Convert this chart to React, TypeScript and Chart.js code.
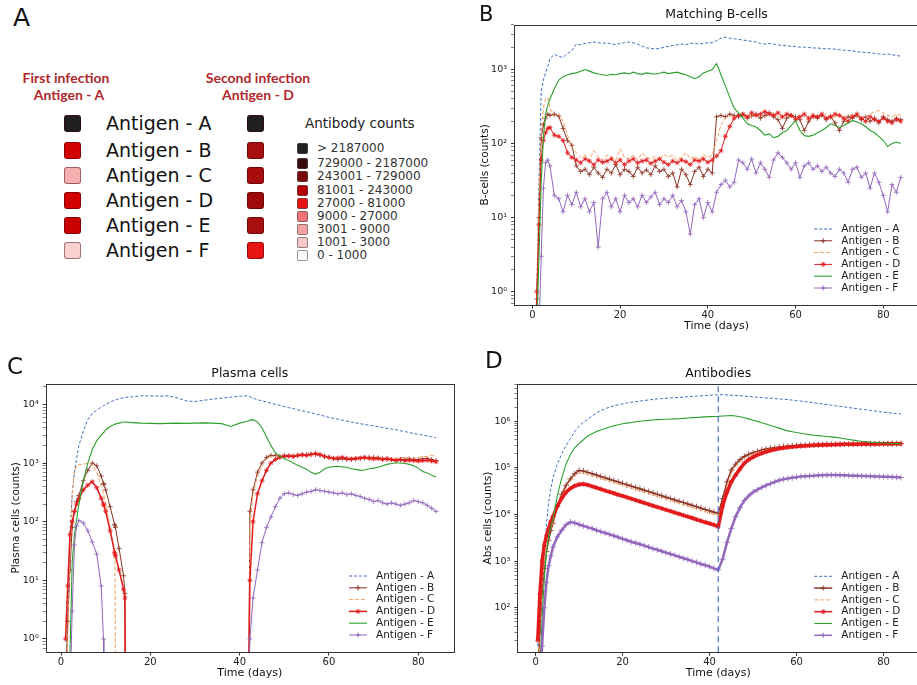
import React, { useEffect, useRef } from 'react';
import { Chart, registerables } from 'chart.js';

Chart.register(...registerables);

const FONT = "'DejaVu Sans', Verdana, sans-serif";

// ---------- shared categories ----------
const antigenLabels = ['Antigen - A', 'Antigen - B', 'Antigen - C', 'Antigen - D', 'Antigen - E', 'Antigen - F'];
const xTickValues = [0, 20, 40, 60, 80];
const secondInfectionDay = [42];

// ---------- panel A ----------
const firstInfectionColors = ['#1f1f1f', '#d20000', '#f6b0b0', '#d40000', '#c80000', '#fbd0d0'];
const secondInfectionColors = ['#1f1f1f', '#a50f0f', '#a80c0c', '#a00a0a', '#a50f0f', '#e81414'];
const antibodyBins = ['> 2187000', '729000 - 2187000', '243001 - 729000', '81001 - 243000', '27000 - 81000', '9000 - 27000', '3001 - 9000', '1001 - 3000', '0 - 1000'];
const antibodyBinColors = ['#222222', '#3a0c0c', '#7a0a0a', '#b50000', '#e81212', '#f07474', '#f4a2a2', '#f9c8c8', '#ffffff'];

// ---------- time grids ----------
const dailyDays = [
  0.5, 1, 1.5, 2, 2.5, 3, 3.5, 4,
  5, 6, 7, 8, 9, 10, 11, 12, 13, 14,
  15, 16, 17, 18, 19, 20, 21, 22, 23, 24,
  25, 26, 27, 28, 29, 30, 31, 32, 33, 34,
  35, 36, 37, 38, 39, 40, 41, 42, 43, 44,
  45, 46, 47, 48, 49, 50, 51, 52, 53, 54,
  55, 56, 57, 58, 59, 60, 61, 62, 63, 64,
  65, 66, 67, 68, 69, 70, 71, 72, 73, 74,
  75, 76, 77, 78, 79, 80, 81, 82, 83, 84,
];

const plasmaDays = [
  1, 1.5, 2, 2.5, 3, 3.5, 4, 5, 6, 7, 8, 9, 9.5, 9.6, 10, 11, 12, 12.1, 12.2, 13, 14, 14.3, 14.4,
  16, 18, 20, 22, 24, 26, 28, 30, 32, 34, 36, 38, 40,
  41, 42, 42.3,
  43, 44, 45, 46, 47, 48, 49, 50, 51, 52, 53, 54,
  55, 56, 57, 58, 59, 60, 61, 62, 63, 64,
  65, 66, 67, 68, 69, 70, 71, 72, 73, 74,
  75, 76, 77, 78, 79, 80, 81, 82, 83, 84,
];

// ---------- panel B: matching B-cells ----------
const bcellA = [
  0.1, 1, 30, 500, 720, 900, 1100, 1400,
  1600, 1500, 1450, 1650, 1800, 2200, 2150, 2250, 2300, 2350,
  2300, 2250, 2300, 2200, 2170, 2250, 2300, 2350, 2300, 2200,
  2050, 1960, 1920, 1900, 1920, 2000, 2050, 2110, 2150, 2200,
  2150, 2250, 2270, 2200, 2250, 2300, 2300, 2450, 2650, 2720,
  2650, 2600, 2550, 2500, 2450, 2400, 2350, 2250, 2200, 2250,
  2200, 2150, 2100, 2100, 2050, 2050, 2000, 2000, 1980, 1950,
  1950, 1920, 1900, 1900, 1880, 1850, 1820, 1800, 1780, 1750,
  1710, 1700, 1680, 1650, 1620, 1600, 1620, 1580, 1550, 1510,
];
const bcellB = [
  0.1, 0.8, 10, 120, 180, 220, 250, 240,
  250, 235, 160, 110, 95, 50, 42, 45, 38, 48,
  40, 35, 45, 40, 52, 38, 45, 42, 36, 48,
  40, 44, 38, 50, 42, 45, 36, 40, 26, 45,
  38, 28, 42, 48, 36, 45, 40, 230, 240, 230,
  250, 240, 230, 245, 220, 235, 250, 220, 240, 260,
  230, 210, 160, 220, 240, 230, 210, 150, 200, 230,
  220, 240, 210, 230, 190, 150, 200, 230, 220, 240,
  210, 230, 200, 220, 190, 230, 210, 200, 220, 210,
];
const bcellC = [
  0.1, 1, 20, 150, 300, 400, 420, 300,
  230, 250, 200, 130, 90, 75, 65, 70, 60, 80,
  65, 60, 70, 65, 60, 85, 65, 62, 70, 60,
  75, 65, 62, 68, 60, 72, 65, 70, 60, 65,
  75, 62, 68, 60, 72, 65, 70, 110, 180, 220,
  240, 230, 250, 220, 240, 230, 250, 240, 220, 250,
  260, 230, 220, 240, 230, 220, 240, 230, 210, 220,
  240, 230, 250, 220, 230, 240, 220, 230, 250, 240,
  220, 230, 250, 270, 280, 260, 240, 230, 250, 240,
];
const bcellD = [
  0.1, 1, 8, 60, 110, 140, 160, 165,
  130, 125, 110, 75, 65, 60, 55, 62, 58, 52,
  60, 56, 58, 62, 55, 60, 52, 58, 62, 55,
  58, 60, 54, 58, 62, 56, 52, 58, 55, 60,
  57, 52, 60, 58, 62, 56, 60, 68, 80, 125,
  170, 220, 240, 250, 230, 260, 240, 250, 270, 250,
  240, 260, 230, 250, 240, 210, 230, 250, 220, 240,
  230, 250, 220, 230, 250, 240, 220, 200, 230, 250,
  220, 200, 230, 210, 200, 220, 200, 190, 210, 200,
];
const bcellE = [
  0.1, 0.3, 3, 30, 120, 250, 330, 400,
  550, 720, 800, 850, 880, 900, 950, 1000, 950, 900,
  870, 850, 830, 860, 850, 880, 900, 870, 920, 880,
  860, 900, 880, 870, 890, 920, 880, 900, 920, 880,
  850, 800, 750, 800, 900, 950, 1000, 1200, 850, 600,
  420, 300, 260, 220, 185, 175, 167, 150, 130, 135,
  120, 125, 140, 150, 175, 205, 150, 128, 125, 130,
  140, 150, 165, 185, 175, 165, 175, 190, 205, 195,
  185, 170, 150, 140, 125, 110, 91, 100, 105, 100,
];
const bcellF = [
  0.1, 0.1, 0.3, 3, 25, 55, 60, 50,
  20, 18, 12, 20, 15, 22, 14, 18, 12, 16,
  4, 18, 22, 14, 18, 12, 20, 16, 18, 14,
  20, 16, 19, 22, 15, 18, 16, 20, 14, 17,
  12, 6, 15, 18, 10, 16, 12, 22, 28, 32,
  26, 30, 60, 55, 45, 62, 40, 55, 45, 35,
  60, 75, 65, 55, 45, 55, 35, 50, 55, 45,
  50, 42, 48, 40, 36, 45, 40, 30, 45, 48,
  35, 40, 25, 40, 30, 20, 12, 28, 22, 35,
];

// ---------- panel C: plasma cells ----------
const plasmaA = [
  0.1, 3, 60, 300, 700, 1200, 2000, 3500, 5500, 7000, 8000, 9000, 9500, 9600, 10000, 11000, 11800, 11850, 11900, 12500, 13000, 13100, 13150,
  13500, 14000, 14000, 13800, 14000, 13000, 11500, 11200, 11800, 12300, 12800, 13300, 13800,
  14000, 14000, 13500,
  12800, 12000, 11500, 11000, 10500, 10000, 9600, 9200, 8800, 8500, 8100, 7800,
  7500, 7200, 6900, 6600, 6300, 6000, 5800, 5600, 5400, 5200,
  5000, 4850, 4700, 4550, 4400, 4300, 4150, 4050, 3900, 3800,
  3700, 3550, 3450, 3300, 3200, 3100, 3000, 2900, 2800, 2700,
];
const plasmaB = [
  0.1, 2, 15, 80, 150, 220, 280, 500, 750, 1000, 900, 600, 450, 430, 350, 180, 90, 85, 80, 35, 12, 6, 0.1,
  0.1, 0.1, 0.1, 0.1, 0.1, 0.1, 0.1, 0.1, 0.1, 0.1, 0.1, 0.1, 0.1,
  0.1, 0.1, 150,
  350, 700, 1000, 1250, 1350, 1350, 1300, 1350, 1320, 1300, 1350, 1380,
  1400, 1420, 1400, 1350, 1300, 1250, 1200, 1150, 1180, 1150,
  1150, 1180, 1200, 1220, 1250, 1250, 1220, 1200, 1180, 1150,
  1100, 1120, 1150, 1180, 1150, 1150, 1180, 1200, 1150, 1100,
];
const plasmaC = [
  0.1, 1, 30, 300, 700, 900, 950, 950, 1000, 950, 700, 400, 300, 280, 200, 80, 30, 20, 0.1, 0.1, 0.1, 0.1, 0.1,
  0.1, 0.1, 0.1, 0.1, 0.1, 0.1, 0.1, 0.1, 0.1, 0.1, 0.1, 0.1, 0.1,
  0.1, 0.1, 80,
  300, 600, 900, 1150, 1300, 1300, 1350, 1300, 1300, 1350, 1320, 1350,
  1400, 1450, 1400, 1350, 1300, 1250, 1200, 1200, 1220, 1180,
  1200, 1220, 1250, 1230, 1250, 1280, 1250, 1220, 1200, 1180,
  1200, 1220, 1250, 1220, 1200, 1250, 1280, 1300, 1350, 1300,
];
const plasmaD = [
  1, 8, 60, 100, 150, 200, 250, 350, 420, 480, 380, 250, 200, 190, 150, 70, 30, 28, 26, 15, 7, 5, 0.1,
  0.1, 0.1, 0.1, 0.1, 0.1, 0.1, 0.1, 0.1, 0.1, 0.1, 0.1, 0.1, 0.1,
  0.1, 0.1, 10,
  100, 300, 500, 750, 1000, 1150, 1250, 1300, 1320, 1300, 1350, 1380,
  1350, 1400, 1450, 1400, 1300, 1250, 1200, 1220, 1250, 1200,
  1180, 1200, 1220, 1250, 1200, 1180, 1200, 1150, 1180, 1150,
  1120, 1150, 1100, 1120, 1100, 1080, 1100, 1120, 1080, 1050,
];
const plasmaE = [
  0.1, 0.1, 0.5, 20, 60, 110, 200, 500, 1000, 1700, 2400, 3000, 3300, 3350, 3700, 4200, 4600, 4620, 4650, 4800, 5000, 5000, 5000,
  4900, 4800, 4750, 4700, 4750, 4800, 4750, 4800, 4850, 4800, 4700, 4200, 4800,
  5000, 5200, 5400,
  5500, 5000, 4000, 2800, 2000, 1500, 1300, 1200, 1100, 1000, 920, 850,
  780, 700, 650, 700, 800, 850, 870, 880, 860, 850,
  800, 780, 750, 760, 800, 820, 850, 900, 950, 980,
  1000, 1000, 980, 950, 900, 820, 720, 680, 620, 580,
];
const plasmaF = [
  0.1, 0.1, 0.1, 3, 40, 85, 105, 95, 70, 45, 28, 8, 1, 0.1, 0.1, 0.1, 0.1, 0.1, 0.1, 0.1, 0.1, 0.1, 0.1,
  0.1, 0.1, 0.1, 0.1, 0.1, 0.1, 0.1, 0.1, 0.1, 0.1, 0.1, 0.1, 0.1,
  0.1, 0.1, 1,
  5, 15, 44, 80, 120, 180, 250, 300, 310, 290, 280, 300,
  320, 330, 350, 340, 330, 320, 310, 300, 310, 290,
  300, 280, 270, 250, 240, 220, 230, 210, 200, 210,
  200, 190, 200, 210, 230, 220, 210, 190, 170, 150,
];

// ---------- panel D: antibodies ----------
const abA = [
  15, 50, 300, 1500, 6000, 18000, 35000, 60000,
  120000, 200000, 300000, 420000, 600000, 780000, 950000, 1100000, 1300000, 1500000,
  1700000, 1850000, 2000000, 2150000, 2250000, 2350000, 2450000, 2550000, 2620000, 2700000,
  2780000, 2850000, 2920000, 3000000, 3050000, 3100000, 3150000, 3200000, 3250000, 3300000,
  3350000, 3400000, 3450000, 3500000, 3550000, 3600000, 3650000, 3700000, 3700000, 3650000,
  3600000, 3550000, 3500000, 3450000, 3380000, 3320000, 3260000, 3200000, 3150000, 3100000,
  3050000, 3000000, 2950000, 2900000, 2830000, 2760000, 2690000, 2620000, 2550000, 2480000,
  2410000, 2340000, 2270000, 2200000, 2140000, 2080000, 2020000, 1960000, 1900000, 1850000,
  1800000, 1750000, 1700000, 1650000, 1600000, 1560000, 1520000, 1490000, 1460000, 1430000,
];
const abB = [
  5, 30, 220, 700, 1600, 2800, 4500, 6500,
  15000, 27000, 42000, 58000, 75000, 88000, 86000, 80000, 75000, 70000,
  65000, 61000, 57000, 53000, 50000, 46500, 43500, 40500, 38000, 35500,
  33000, 31000, 29000, 27000, 25200, 23500, 22000, 20500, 19200, 18000,
  16800, 15700, 14700, 13700, 12800, 12000, 11200, 10500, 22000, 50000,
  90000, 120000, 150000, 175000, 195000, 210000, 225000, 240000, 252000, 262000,
  270000, 278000, 285000, 290000, 295000, 300000, 303000, 306000, 309000, 311000,
  313000, 315000, 317000, 318000, 319000, 320000, 321000, 322000, 323000, 324000,
  325000, 326000, 326000, 327000, 328000, 328000, 329000, 330000, 330000, 331000,
];
const abC = [
  5, 40, 300, 900, 2000, 3500, 5000, 6500,
  14000, 25000, 38000, 52000, 66000, 78000, 77000, 72000, 67000, 63000,
  58500, 55000, 51000, 48000, 45000, 42000, 39000, 36500, 34000, 32000,
  29500, 27800, 26000, 24300, 22700, 21200, 19800, 18500, 17300, 16200,
  15100, 14100, 13200, 12300, 11500, 10800, 10000, 9500, 17000, 40000,
  75000, 105000, 135000, 160000, 182000, 200000, 215000, 230000, 243000, 254000,
  263000, 271000, 278000, 284000, 290000, 295000, 299000, 302000, 305000, 308000,
  310000, 312000, 314000, 316000, 317000, 318000, 319000, 320000, 321000, 322000,
  323000, 324000, 325000, 326000, 327000, 327000, 328000, 329000, 329000, 330000,
];
const abD = [
  20, 200, 1000, 2200, 3500, 5000, 7000, 9000,
  15000, 22000, 30000, 36000, 41000, 44000, 45000, 43000, 40000, 37500,
  35000, 32500, 30500, 28500, 26500, 25000, 23300, 21800, 20300, 19000,
  17700, 16500, 15400, 14400, 13500, 12600, 11800, 11000, 10300, 9600,
  9000, 8400, 7800, 7300, 6800, 6400, 6000, 5500, 15000, 30000,
  50000, 70000, 95000, 126000, 150000, 170000, 190000, 205000, 220000, 235000,
  248000, 258000, 267000, 275000, 282000, 288000, 293000, 297000, 301000, 304000,
  307000, 310000, 312000, 314000, 316000, 318000, 319000, 320000, 321000, 322000,
  323000, 324000, 325000, 326000, 327000, 327000, 328000, 329000, 329000, 330000,
];
const abE = [
  1, 5, 60, 400, 1500, 3500, 5500, 8000,
  25000, 60000, 120000, 190000, 270000, 330000, 400000, 480000, 540000, 600000,
  650000, 700000, 750000, 800000, 840000, 880000, 910000, 940000, 970000, 1000000,
  1020000, 1040000, 1060000, 1080000, 1090000, 1100000, 1110000, 1120000, 1130000, 1150000,
  1170000, 1190000, 1200000, 1220000, 1240000, 1250000, 1260000, 1270000, 1290000, 1310000,
  1320000, 1290000, 1240000, 1180000, 1120000, 1050000, 990000, 930000, 870000, 810000,
  760000, 710000, 660000, 620000, 595000, 570000, 550000, 530000, 515000, 500000,
  490000, 480000, 470000, 460000, 450000, 435000, 420000, 405000, 392000, 380000,
  370000, 362000, 355000, 350000, 345000, 340000, 336000, 333000, 330000, 328000,
];
const abF = [
  1, 3, 15, 100, 350, 800, 1300, 2000,
  3300, 4600, 6000, 6900, 6600, 6100, 5700, 5300, 5000, 4600,
  4300, 4000, 3750, 3500, 3250, 3000, 2800, 2600, 2450, 2300,
  2150, 2000, 1850, 1750, 1630, 1520, 1420, 1330, 1240, 1150,
  1080, 1000, 940, 870, 820, 760, 700, 650, 1100, 2500,
  5000, 9000, 14000, 20000, 25000, 30000, 34000, 38000, 42000, 46000,
  50000, 54000, 57000, 59000, 61000, 63000, 65000, 66000, 67000, 68000,
  69000, 69500, 70000, 70000, 70000, 69500, 69000, 68500, 68000, 67500,
  67000, 66500, 66000, 65500, 65000, 64500, 64000, 63500, 63000, 62000,
];

// ---------- axis decades ----------
const bcellDecades = [1, 10, 100, 1000];
const plasmaDecades = [1, 10, 100, 1000, 10000];
const abDecades = [100, 1000, 10000, 100000, 1000000];

// ---------- styles ----------
const seriesColors = ['#3d6fbd', '#8b3426', '#f5a060', '#e31a1c', '#2ca02c', '#9467bd'];
const seriesDash = [[3, 2], [], [4, 2], [], [], []];
const seriesMarkers: (string | null)[] = [null, 'cross', null, 'star', null, 'cross'];

const SUP: Record<string, string> = { '-': '⁻', '0': '⁰', '1': '¹', '2': '²', '3': '³', '4': '⁴', '5': '⁵', '6': '⁶', '7': '⁷', '8': '⁸', '9': '⁹' };
const powLabel = (v: number) => '10' + String(Math.round(Math.log10(v))).split('').map((c) => SUP[c]).join('');
const isMajor = (v: number, majors: number[]) => majors.some((m) => Math.abs(v / m - 1) < 1e-6);

function logTicks(majors: number[], min: number, max: number) {
  const out: { value: number }[] = [];
  const bases = [majors[0] / 10, ...majors];
  for (const b of bases) {
    for (let k = 1; k <= 9; k++) {
      const v = b * k;
      if (v >= min && v <= max) out.push({ value: v });
    }
  }
  return out;
}

function drawMarker(ctx: CanvasRenderingContext2D, kind: string, x: number, y: number, r: number, color: string) {
  ctx.save();
  ctx.strokeStyle = color;
  ctx.lineWidth = 1;
  ctx.setLineDash([]);
  ctx.beginPath();
  ctx.moveTo(x - r, y); ctx.lineTo(x + r, y);
  ctx.moveTo(x, y - r); ctx.lineTo(x, y + r);
  if (kind === 'star') {
    const d = r * 0.75;
    ctx.moveTo(x - d, y - d); ctx.lineTo(x + d, y + d);
    ctx.moveTo(x - d, y + d); ctx.lineTo(x + d, y - d);
  }
  ctx.stroke();
  ctx.restore();
}

const framePlugin = {
  id: 'axesFrame',
  afterDraw(chart: any) {
    const { ctx, chartArea: a } = chart;
    ctx.save();
    ctx.strokeStyle = '#333';
    ctx.lineWidth = 1;
    ctx.strokeRect(Math.round(a.left) + 0.5, Math.round(a.top) + 0.5, Math.round(a.right - a.left), Math.round(a.bottom - a.top));
    ctx.restore();
  },
};

const legendPlugin = {
  id: 'cornerLegend',
  afterDraw(chart: any) {
    const { ctx, chartArea } = chart;
    const items = chart.data.datasets.filter((d: any) => antigenLabels.includes(d.label));
    const n = items.length;
    const rowGap = 11.8;
    ctx.save();
    ctx.font = `10.5px ${FONT}`;
    ctx.textBaseline = 'middle';
    ctx.textAlign = 'left';
    items.forEach((ds: any, i: number) => {
      const y = chartArea.bottom - 17 - (n - 1 - i) * rowGap;
      const x0 = chartArea.right - 105;
      const x1 = chartArea.right - 87;
      ctx.strokeStyle = ds.borderColor;
      ctx.lineWidth = Math.min(ds.borderWidth, 1.5);
      ctx.setLineDash(ds.borderDash || []);
      ctx.beginPath();
      ctx.moveTo(x0, y);
      ctx.lineTo(x1, y);
      ctx.stroke();
      ctx.setLineDash([]);
      if (ds.legendMarker) drawMarker(ctx, ds.legendMarker, (x0 + x1) / 2, y, 2.5, ds.borderColor);
      ctx.fillStyle = '#222';
      ctx.fillText(ds.label, chartArea.right - 78, y);
    });
    ctx.restore();
  },
};

type PanelCfg = {
  title: string;
  yTitle: string;
  days: number[];
  series: number[][];
  decades: number[];
  yMin: number;
  yMax: number;
  xMin: number;
  xMax: number;
  left: number;
  top: number;
  w: number;
  h: number;
  padLeft: number;
  padRight: number;
  yWidth: number;
  xHeight: number;
  titleTop: number;
  titleBottom: number;
  widths: number[];
  radii: number[];
  vline?: number[];
};

function buildConfig(cfg: PanelCfg): any {
  const datasets: any[] = cfg.series.map((vals, s) => ({
    label: antigenLabels[s],
    data: cfg.days.map((d, i) => ({ x: d, y: vals[i] })),
    borderColor: seriesColors[s],
    backgroundColor: seriesColors[s],
    borderWidth: cfg.widths[s],
    borderDash: seriesDash[s],
    pointStyle: seriesMarkers[s] || 'circle',
    pointRadius: seriesMarkers[s] ? cfg.radii[s] : 0,
    pointBorderWidth: 0.8,
    pointBorderColor: seriesColors[s],
    pointBackgroundColor: seriesColors[s],
    legendMarker: seriesMarkers[s],
    tension: 0,
    fill: false,
    order: 6 - s,
  }));
  if (cfg.vline) {
    cfg.vline.forEach((d) => {
      datasets.push({
        label: 'second infection',
        data: [{ x: d, y: cfg.yMin }, { x: d, y: cfg.yMax }],
        borderColor: '#4a6fd6',
        borderWidth: 1.2,
        borderDash: [6, 4],
        pointRadius: 0,
        fill: false,
        order: 0,
      });
    });
  }
  const tickFont = { family: FONT, size: 10 };
  return {
    type: 'line',
    data: { datasets },
    plugins: [framePlugin, legendPlugin],
    options: {
      animation: false,
      responsive: false,
      devicePixelRatio: 1,
      events: [],
      layout: { padding: { left: cfg.padLeft, right: cfg.padRight, top: 0, bottom: 0 } },
      plugins: {
        legend: { display: false },
        tooltip: { enabled: false },
        title: {
          display: true,
          text: cfg.title,
          fullSize: false,
          color: '#111',
          font: { family: FONT, size: 12.5, weight: 'normal' },
          padding: { top: cfg.titleTop, bottom: cfg.titleBottom },
        },
      },
      scales: {
        x: {
          type: 'linear',
          min: cfg.xMin,
          max: cfg.xMax,
          afterBuildTicks: (scale: any) => {
            scale.ticks = xTickValues.map((v) => ({ value: v }));
          },
          afterFit: (scale: any) => {
            scale.height = cfg.xHeight;
          },
          ticks: { autoSkip: false, maxRotation: 0, padding: 1, color: '#222', font: tickFont, callback: (v: any) => String(v) },
          grid: { display: true, drawOnChartArea: false, drawTicks: true, tickLength: 3.5, tickColor: '#333', tickWidth: 1 },
          border: { display: false },
          title: { display: true, text: 'Time (days)', color: '#111', font: { family: FONT, size: 11 }, padding: { top: 0, bottom: 3.4 } },
        },
        y: {
          type: 'logarithmic',
          min: cfg.yMin,
          max: cfg.yMax,
          afterBuildTicks: (scale: any) => {
            scale.ticks = logTicks(cfg.decades, cfg.yMin, cfg.yMax);
          },
          afterFit: (scale: any) => {
            scale.width = cfg.yWidth;
          },
          ticks: {
            autoSkip: false,
            padding: 4,
            color: '#222',
            font: { family: FONT, size: 9.5 },
            callback: (v: any) => (isMajor(Number(v), cfg.decades) ? powLabel(Number(v)) : ''),
          },
          grid: {
            display: true,
            drawOnChartArea: false,
            drawTicks: true,
            tickLength: 3,
            tickColor: '#333',
            tickWidth: (ctx: any) => (ctx.tick && isMajor(ctx.tick.value, cfg.decades) ? 1 : 0.6),
          },
          border: { display: false },
          title: { display: true, text: cfg.yTitle, color: '#111', font: { family: FONT, size: 10.5 }, padding: { top: 4, bottom: 4 } },
        },
      },
    },
  };
}

function LogPanel({ cfg }: { cfg: PanelCfg }) {
  const ref = useRef<HTMLCanvasElement>(null);
  useEffect(() => {
    const chart = new Chart(ref.current as HTMLCanvasElement, buildConfig(cfg));
    return () => chart.destroy();
  }, []);
  return (
    <canvas
      ref={ref}
      width={cfg.w}
      height={cfg.h}
      style={{ position: 'absolute', left: cfg.left, top: cfg.top, width: cfg.w, height: cfg.h }}
    />
  );
}

const panelB: PanelCfg = {
  title: 'Matching B-cells',
  yTitle: 'B-cells (counts)',
  days: dailyDays,
  series: [bcellA, bcellB, bcellC, bcellD, bcellE, bcellF],
  decades: bcellDecades,
  yMin: 0.662,
  yMax: 4036,
  xMin: -4.2,
  xMax: 88.2,
  left: 450,
  top: 0,
  w: 474,
  h: 336,
  padLeft: 24.7,
  padRight: 0,
  yWidth: 39.3,
  xHeight: 31,
  titleTop: 6.8,
  titleBottom: 2.8,
  widths: [1, 1, 1, 1, 1.1, 1],
  radii: [0, 2.5, 0, 2.5, 0, 2.5],
};

const panelC: PanelCfg = {
  title: 'Plasma cells',
  yTitle: 'Plasma cells (counts)',
  days: plasmaDays,
  series: [plasmaA, plasmaB, plasmaC, plasmaD, plasmaE, plasmaF],
  decades: plasmaDecades,
  yMin: 0.645,
  yMax: 22650,
  xMin: -3.43,
  xMax: 88.0,
  left: 0,
  top: 330,
  w: 460,
  h: 353,
  padLeft: 5.7,
  padRight: 6,
  yWidth: 40,
  xHeight: 31,
  titleTop: 36.1,
  titleBottom: 2.5,
  widths: [1, 1, 1, 1.5, 1.1, 1],
  radii: [0, 2.5, 0, 2.5, 0, 2.5],
};

const panelD: PanelCfg = {
  title: 'Antibodies',
  yTitle: 'Abs cells (counts)',
  days: dailyDays,
  series: [abA, abB, abC, abD, abE, abF],
  decades: abDecades,
  yMin: 11.1,
  yMax: 6300000,
  xMin: -4.2,
  xMax: 88.2,
  left: 460,
  top: 330,
  w: 464,
  h: 353,
  padLeft: 18,
  padRight: 0,
  yWidth: 39.3,
  xHeight: 30.7,
  titleTop: 36.1,
  titleBottom: 2.8,
  widths: [1, 1.5, 1, 3.5, 1.1, 2.5],
  radii: [0, 3, 0, 2.5, 0, 3],
  vline: secondInfectionDay,
};

const rowY = [123, 150, 175, 200, 225, 250];
const binRowY = [148, 163, 176, 189.5, 202.5, 215.5, 228.5, 241.5, 254.5];

function Letter({ ch, left, top, size }: { ch: string; left: number; top: number; size: number }) {
  return (
    <div style={{ position: 'absolute', left, top, fontSize: size, lineHeight: `${size}px`, fontFamily: FONT, color: '#111' }}>{ch}</div>
  );
}

function PanelA() {
  const heading = (text: string, cx: number, cy: number) => (
    <div
      style={{
        position: 'absolute', left: cx - 80, top: cy - 8, width: 160, textAlign: 'center',
        fontFamily: "Lato, 'Open Sans', sans-serif", fontWeight: 700, fontSize: 14, lineHeight: '16px', color: '#b0282c',
      }}
    >
      {text}
    </div>
  );
  const square = (left: number, cy: number, color: string, size: number, radius: number) => (
    <div
      style={{
        position: 'absolute', left, top: cy - size / 2, width: size - 2, height: size - 2, background: color,
        border: '1px solid rgba(60,0,0,0.45)', borderRadius: radius,
      }}
    />
  );
  return (
    <>
      {heading('First infection', 66, 78)}
      {heading('Antigen - A', 69, 95)}
      {heading('Second infection', 258, 78)}
      {heading('Antigen - D', 258, 95)}
      {antigenLabels.map((lab, i) => (
        <React.Fragment key={lab}>
          {square(64, rowY[i], firstInfectionColors[i], 17, 3)}
          <div style={{ position: 'absolute', left: 106, top: rowY[i] - 9.5, fontFamily: FONT, fontSize: 19, lineHeight: '19px', color: '#111', whiteSpace: 'nowrap' }}>{lab}</div>
          {square(247, rowY[i], secondInfectionColors[i], 17, 3)}
        </React.Fragment>
      ))}
      <div style={{ position: 'absolute', left: 305, top: 115, fontFamily: FONT, fontSize: 13.5, lineHeight: '16px', color: '#222', whiteSpace: 'nowrap' }}>Antibody counts</div>
      {antibodyBins.map((lab, i) => (
        <React.Fragment key={lab}>
          <div
            style={{
              position: 'absolute', left: 297, top: binRowY[i] - 5, width: 9, height: 9, background: antibodyBinColors[i],
              border: '1px solid rgba(80,80,80,0.6)', borderRadius: 2,
            }}
          />
          <div style={{ position: 'absolute', left: 317, top: binRowY[i] - 7, fontFamily: FONT, fontSize: 12, lineHeight: '14px', color: '#333', whiteSpace: 'nowrap' }}>{lab}</div>
        </React.Fragment>
      ))}
    </>
  );
}

export default function App() {
  return (
    <div style={{ position: 'absolute', left: 0, top: 0, width: 917, height: 685, overflow: 'hidden', background: '#fff' }}>
      <PanelA />
      <LogPanel cfg={panelB} />
      <LogPanel cfg={panelC} />
      <LogPanel cfg={panelD} />
      <Letter ch="A" left={13} top={5} size={25} />
      <Letter ch="B" left={479} top={3.5} size={21} />
      <Letter ch="C" left={7} top={355.4} size={23} />
      <Letter ch="D" left={485} top={349.4} size={23} />
    </div>
  );
}
